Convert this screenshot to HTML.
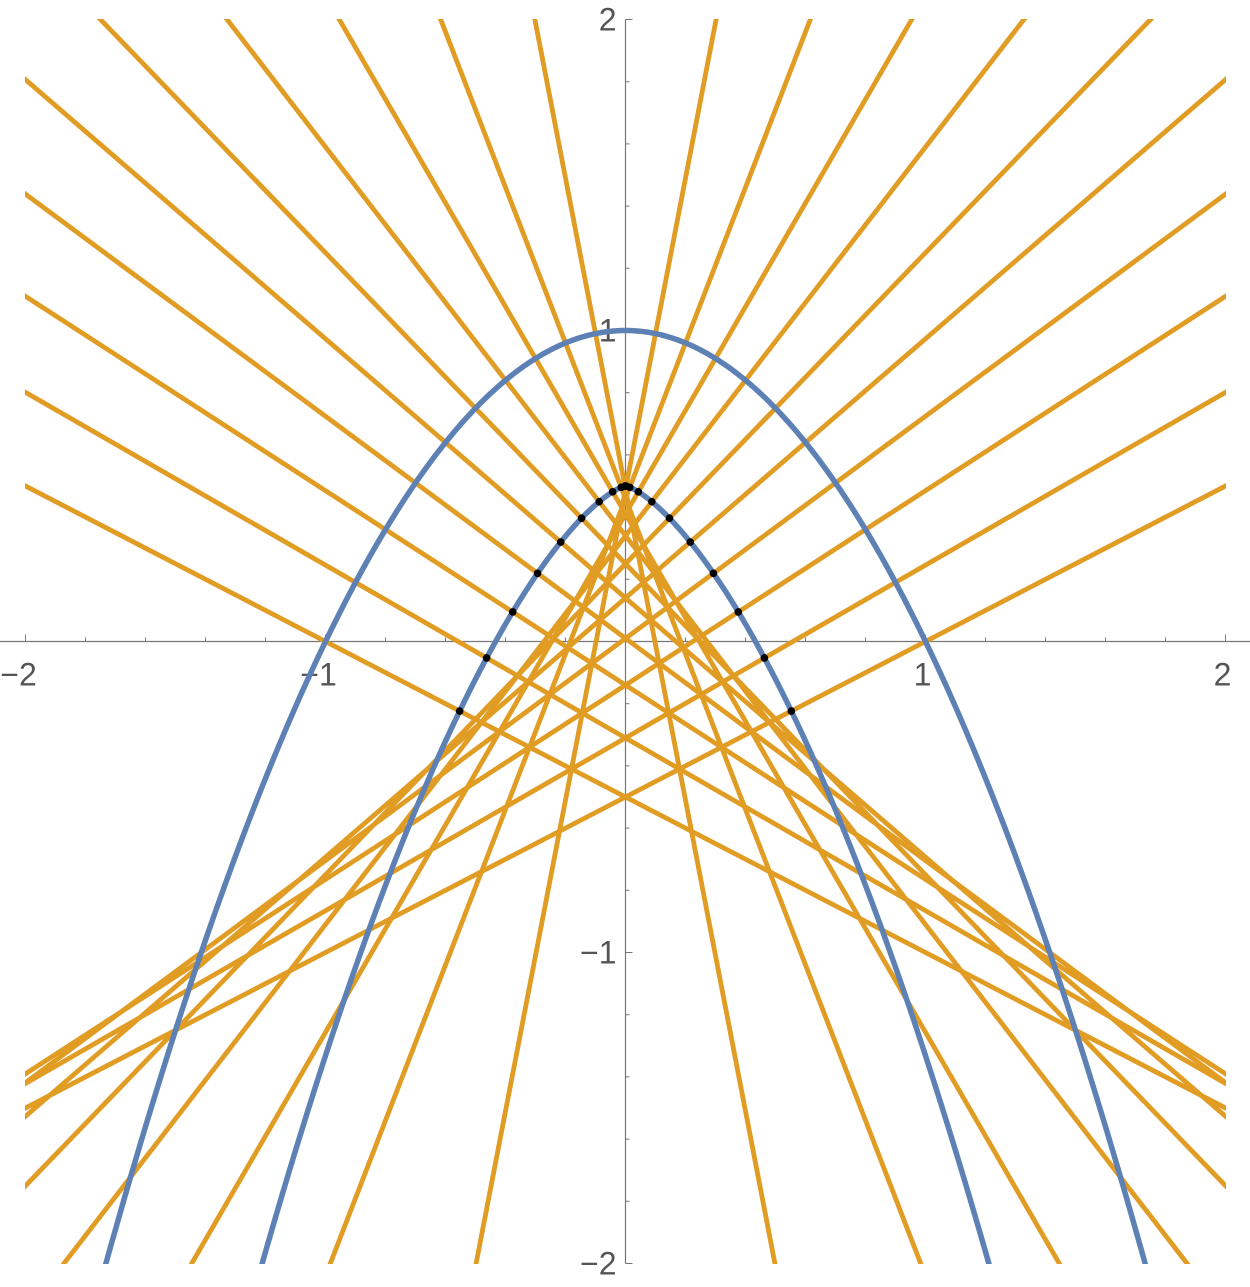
<!DOCTYPE html>
<html><head><meta charset="utf-8"><style>
html,body{margin:0;padding:0;background:#fff;overflow:hidden;width:1250px;height:1287px;}
svg{display:block;}
text{font-family:"Liberation Sans",sans-serif;font-size:32px;fill:#555;}
</style></head><body>
<svg id="chart" width="1250" height="1287" viewBox="0 0 1250 1287" xmlns="http://www.w3.org/2000/svg">
<defs><clipPath id="clip"><rect x="25" y="19" width="1201" height="1245"/></clipPath></defs>
<g id="axes"></g>
<g id="lines" clip-path="url(#clip)"></g>
<g id="curves" clip-path="url(#clip)"></g>
<g id="dots"></g>
</svg>
<script>
const normalParams = [-1,-0.9,-0.8,-0.7,-0.6,-0.5,-0.4,-0.3,-0.2,-0.1,0,0.1,0.2,0.3,0.4,0.5,0.6,0.7,0.8,0.9,1];
const offsetDistance = [0.5];
const xTicks = [-2,-1,1,2];
const yTicks = [-2,-1,1,2];
const xRange = [-2,2];
const yRange = [-2,2];

const NS = "http://www.w3.org/2000/svg";
const X0 = 625.5, SX = 300, Y0 = 641.5, SY = 311;
const px = x => X0 + x*SX;
const py = y => Y0 - y*SY;
function mk(tag, attrs, parent){const e=document.createElementNS(NS,tag);for(const k in attrs)e.setAttribute(k,attrs[k]);parent.appendChild(e);return e;}
const axes=document.getElementById('axes'), lines=document.getElementById('lines'), curves=document.getElementById('curves'), dots=document.getElementById('dots');

let ax=mk('line',{x1:0,x2:1250,y1:py(0),y2:py(0),stroke:'#777','stroke-width':1.2},axes);


let ay=mk('line',{x1:px(0),x2:px(0),y1:py(yRange[1]),y2:py(yRange[0]),stroke:'#777','stroke-width':1.2},axes);


for(let i=-10;i<=10;i++){
  const v=i/5, major=(i%5===0);
  if(i!==0){
    const t=mk('line',{x1:px(v),x2:px(v),y1:py(0),y2:py(0)-(major?7:4),stroke:'#777','stroke-width':1},axes);
    
    
    const u=mk('line',{x1:px(0),x2:px(0)+(major?7:4),y1:py(v),y2:py(v),stroke:'#777','stroke-width':1},axes);
    
    
  }
}
xTicks.forEach(v=>{
  const t=mk('text',{x:px(v)+(v<0?-7:-3),y:py(0)+44,'text-anchor':'middle'},axes);
  t.textContent=(v<0?'\u2212':'')+Math.abs(v);
  
  
});
yTicks.forEach(v=>{
  const t=mk('text',{x:px(0)-9,y:py(v)+11,'text-anchor':'end'},axes);
  t.textContent=(v<0?'\u2212':'')+Math.abs(v);
  
  
});

const d=offsetDistance[0];
normalParams.forEach(a=>{
  if(Math.abs(a)<1e-9) return;
  const ya=1-a*a;
  const m=1/(2*a);
  const x1=xRange[0]-0.3, x2=xRange[1]+0.3;
  const y1=ya+m*(x1-a), y2=ya+m*(x2-a);
  const l=mk('line',{x1:px(x1),y1:py(y1),x2:px(x2),y2:py(y2),stroke:'#E19C24','stroke-width':4.8},lines);
  
  
});

let p='';
for(let i=0;i<=400;i++){const x=-2.2+4.4*i/400;p+=(i?'L':'M')+px(x).toFixed(2)+','+py(1-x*x).toFixed(2);}
const c1=mk('path',{d:p,fill:'none',stroke:'#5E81B5','stroke-width':5.5},curves);


p='';
for(let i=0;i<=600;i++){const a=-2.2+4.4*i/600;const n=Math.sqrt(1+4*a*a);const x=a-2*a*d/n,y=1-a*a-d/n;p+=(i?'L':'M')+px(x).toFixed(2)+','+py(y).toFixed(2);}
const c2=mk('path',{d:p,fill:'none',stroke:'#5E81B5','stroke-width':5.5},curves);


normalParams.forEach(a=>{
  const n=Math.sqrt(1+4*a*a);
  const c=mk('circle',{cx:px(a-2*a*d/n),cy:py(1-a*a-d/n),r:3.8,fill:'#000'},dots);
  
  
});
</script>
</body></html>
